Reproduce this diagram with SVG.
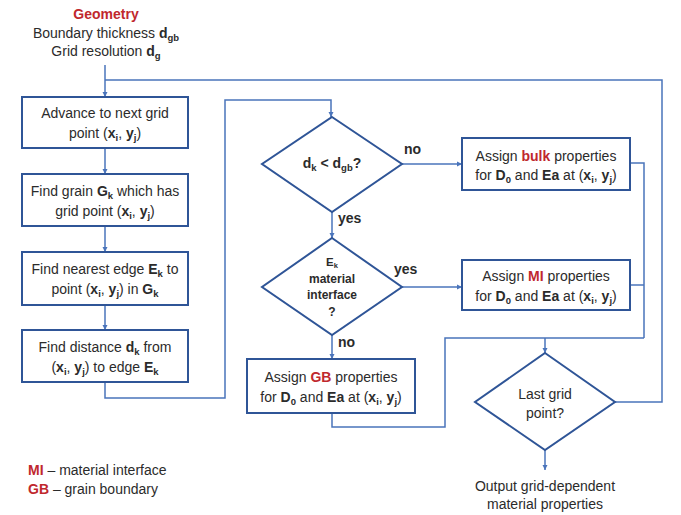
<svg xmlns="http://www.w3.org/2000/svg" width="681" height="515" viewBox="0 0 681 515">
<defs>
<style>
text{font-family:"Liberation Sans","Open Sans",sans-serif;font-size:14px;fill:#2b2b2b;text-anchor:middle}
.b{font-weight:bold}
.r{fill:#c0282d;font-weight:bold}
.s{font-size:9.5px;font-weight:bold}
.box{fill:#fff;stroke:#2f5597;stroke-width:2}
.ln{fill:none;stroke:#4a74bb;stroke-width:1.5}
.lbl{text-anchor:start;font-weight:bold}
</style>
<marker id="ah" markerWidth="6" markerHeight="6" refX="5" refY="3" orient="auto" markerUnits="userSpaceOnUse">
<path d="M0,0.5 L5,3 L0,5.5 z" fill="#4a74bb"/>
</marker>
</defs>
<rect width="681" height="515" fill="#fff"/>
<g id="connectors">
<path class="ln" d="M105,65 V97" marker-end="url(#ah)"/>
<path class="ln" d="M105,80 H662 V402 H615"/>
<path class="ln" d="M105,148 V174" marker-end="url(#ah)"/>
<path class="ln" d="M105,226 V252" marker-end="url(#ah)"/>
<path class="ln" d="M105,305 V330" marker-end="url(#ah)"/>
<path class="ln" d="M105,382 V398 H225 V100 H331 V117" marker-end="url(#ah)"/>
<path class="ln" d="M402,164 H462" marker-end="url(#ah)"/>
<path class="ln" d="M332,212 V238" marker-end="url(#ah)"/>
<path class="ln" d="M402,287 H462" marker-end="url(#ah)"/>
<path class="ln" d="M332,335 V359" marker-end="url(#ah)"/>
<path class="ln" d="M630,163 H644 V338"/>
<path class="ln" d="M630,285 H644"/>
<path class="ln" d="M332,413 V427 H445 V338 H644"/>
<path class="ln" d="M545,338 V353" marker-end="url(#ah)"/>
<path class="ln" d="M545,450 V470" marker-end="url(#ah)"/>
<text class="lbl" x="404" y="154">no</text>
<text class="lbl" x="338" y="223">yes</text>
<text class="lbl" x="394" y="274">yes</text>
<text class="lbl" x="338" y="347">no</text>
</g>
<g id="geometry">
<text class="r" x="106" y="19">Geometry</text>
<text x="106" y="38">Boundary thickness <tspan class="b">d</tspan><tspan class="s" baseline-shift="-25%">gb</tspan></text>
<text x="106" y="56">Grid resolution <tspan class="b">d</tspan><tspan class="s" baseline-shift="-25%">g</tspan></text>
</g>
<g id="advance">
<rect class="box" x="22" y="97" width="166" height="51"/>
<text x="105" y="118">Advance to next grid</text>
<text x="105" y="138">point (<tspan class="b">x</tspan><tspan class="s" baseline-shift="-25%">i</tspan>, <tspan class="b">y</tspan><tspan class="s" baseline-shift="-25%">j</tspan>)</text>
</g>
<g id="findgrain">
<rect class="box" x="22" y="174" width="166" height="52"/>
<text x="105" y="196">Find grain <tspan class="b">G</tspan><tspan class="s" baseline-shift="-25%">k</tspan> which has</text>
<text x="105" y="216">grid point (<tspan class="b">x</tspan><tspan class="s" baseline-shift="-25%">i</tspan>, <tspan class="b">y</tspan><tspan class="s" baseline-shift="-25%">j</tspan>)</text>
</g>
<g id="findedge">
<rect class="box" x="22" y="252" width="166" height="53"/>
<text x="105" y="274">Find nearest edge <tspan class="b">E</tspan><tspan class="s" baseline-shift="-25%">k</tspan> to</text>
<text x="105" y="294">point (<tspan class="b">x</tspan><tspan class="s" baseline-shift="-25%">i</tspan>, <tspan class="b">y</tspan><tspan class="s" baseline-shift="-25%">j</tspan>) in <tspan class="b">G</tspan><tspan class="s" baseline-shift="-25%">k</tspan></text>
</g>
<g id="finddist">
<rect class="box" x="22" y="330" width="166" height="52"/>
<text x="105" y="352">Find distance <tspan class="b">d</tspan><tspan class="s" baseline-shift="-25%">k</tspan> from</text>
<text x="105" y="372">(<tspan class="b">x</tspan><tspan class="s" baseline-shift="-25%">i</tspan>, <tspan class="b">y</tspan><tspan class="s" baseline-shift="-25%">j</tspan>) to edge <tspan class="b">E</tspan><tspan class="s" baseline-shift="-25%">k</tspan></text>
</g>
<g id="dec1">
<polygon class="box" points="332,117 402,164 332,212 262,164"/>
<text class="b" x="332" y="168">d<tspan class="s" baseline-shift="-25%">k</tspan> &lt; d<tspan class="s" baseline-shift="-25%">gb</tspan>?</text>
</g>
<g id="dec2">
<polygon class="box" points="332,238 402,287 332,335 262,287"/>
<text class="b" x="332" y="266" style="font-size:11.5px">E<tspan class="s" style="font-size:7.5px" baseline-shift="-25%">k</tspan></text>
<text class="b" x="332" y="283" style="font-size:12px">material</text>
<text class="b" x="332" y="299" style="font-size:12px">interface</text>
<text class="b" x="332" y="316" style="font-size:12px">?</text>
</g>
<g id="bulk">
<rect class="box" x="462" y="138" width="168" height="52"/>
<text x="546" y="161">Assign <tspan class="r">bulk</tspan> properties</text>
<text x="546" y="180">for <tspan class="b">D</tspan><tspan class="s" baseline-shift="-25%">0</tspan> and <tspan class="b">Ea</tspan> at (<tspan class="b">x</tspan><tspan class="s" baseline-shift="-25%">i</tspan>, <tspan class="b">y</tspan><tspan class="s" baseline-shift="-25%">j</tspan>)</text>
</g>
<g id="mi">
<rect class="box" x="462" y="260" width="168" height="50"/>
<text x="546" y="281">Assign <tspan class="r">MI</tspan> properties</text>
<text x="546" y="301">for <tspan class="b">D</tspan><tspan class="s" baseline-shift="-25%">0</tspan> and <tspan class="b">Ea</tspan> at (<tspan class="b">x</tspan><tspan class="s" baseline-shift="-25%">i</tspan>, <tspan class="b">y</tspan><tspan class="s" baseline-shift="-25%">j</tspan>)</text>
</g>
<g id="gb">
<rect class="box" x="247" y="359" width="168" height="54"/>
<text x="331" y="382">Assign <tspan class="r">GB</tspan> properties</text>
<text x="331" y="402">for <tspan class="b">D</tspan><tspan class="s" baseline-shift="-25%">0</tspan> and <tspan class="b">Ea</tspan> at (<tspan class="b">x</tspan><tspan class="s" baseline-shift="-25%">i</tspan>, <tspan class="b">y</tspan><tspan class="s" baseline-shift="-25%">j</tspan>)</text>
</g>
<g id="lastgrid">
<polygon class="box" points="545,353 615,402 545,450 475,402"/>
<text x="545" y="399">Last grid</text>
<text x="545" y="418">point?</text>
</g>
<g id="output">
<text x="545" y="491">Output grid-dependent</text>
<text x="545" y="509">material properties</text>
</g>
<g id="legend">
<text x="28" y="475" style="text-anchor:start"><tspan class="r">MI</tspan> – material interface</text>
<text x="28" y="494" style="text-anchor:start"><tspan class="r">GB</tspan> – grain boundary</text>
</g>
</svg>
